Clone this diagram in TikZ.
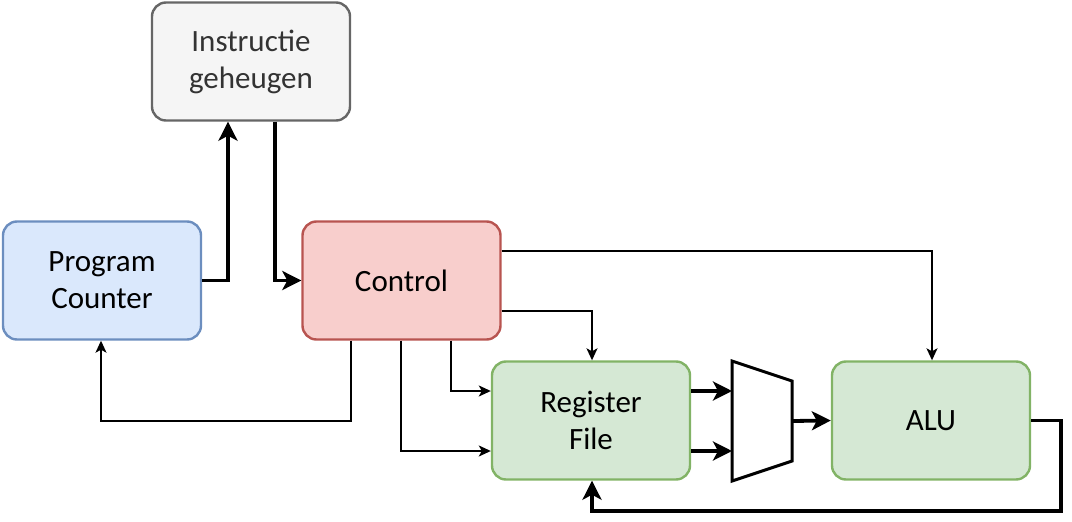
\documentclass[tikz,border=0pt]{standalone}
\usepackage{fontspec}
\setmainfont{Carlito}
\usetikzlibrary{arrows.meta}

\definecolor{grayfill}{HTML}{F5F5F5}
\definecolor{graydraw}{HTML}{666666}
\definecolor{graytext}{HTML}{333333}
\definecolor{bluefill}{HTML}{DAE8FC}
\definecolor{bluedraw}{HTML}{6C8EBF}
\definecolor{redfill}{HTML}{F8CECC}
\definecolor{reddraw}{HTML}{B85450}
\definecolor{greenfill}{HTML}{D5E8D4}
\definecolor{greendraw}{HTML}{82B366}

\tikzset{
  block/.style={rectangle, rounded corners=14pt, line width=2.4pt, minimum width=198pt, minimum height=118pt,
    align=center, font=\fontsize{31}{37}\selectfont},
  bus/.style={line width=3.8pt, -{Stealth[length=19pt,width=19pt,inset=5pt]}},
  ctrl/.style={line width=1.5pt, -{Stealth[length=12pt,width=11pt,inset=3pt]}},
}

\begin{document}
\begin{tikzpicture}[x=1pt,y=-1pt]
\useasboundingbox (0,0) rectangle (1072,522);

% blocks
\node[block, fill=grayfill, draw=graydraw, text=graytext] (imem) at (251,61.5) {Instructie\\geheugen};
\node[block, fill=bluefill, draw=bluedraw] (pc) at (102,280.5) {Program\\Counter};
\node[block, fill=redfill, draw=reddraw] (control) at (401.5,280.5) {Control};
\node[block, fill=greenfill, draw=greendraw] (regfile) at (591,420.5) {Register\\File};
\node[block, fill=greenfill, draw=greendraw] (alu) at (931,420.5) {ALU};

% mux
\draw[line width=3pt, line join=miter] (732,361) -- (792,381) -- (792,461) -- (732,481) -- cycle;
\coordinate (muxa) at (732,391);
\coordinate (muxb) at (732,451);
\coordinate (muxout) at (792,421);

% data paths
\draw[bus] (pc.east) -- (228,280.5) -- (imem.south -| 228,0);
\draw[bus] (imem.south -| 275,0) -- (275,280.5) -- (control.west);
\draw[bus] (regfile.east |- muxa) -- (muxa);
\draw[bus] (regfile.east |- muxb) -- (muxb);
\draw[bus] (muxout) -- (alu.west);
\draw[bus] (alu.east) -- (1061,420.5) -- (1061,511) -- (592,511) -- (regfile.south -| 592,0);

% control lines
\draw[ctrl] (control.east |- 0,251) -- (932,251) -- (alu.north -| 932,0);
\draw[ctrl] (control.east |- 0,311) -- (592,311) -- (regfile.north -| 592,0);
\draw[ctrl] (control.south -| 351,0) -- (351,421) -- (101,421) -- (pc.south -| 101,0);
\draw[ctrl] (control.south -| 401,0) -- (401,451) -- (regfile.west |- 0,451);
\draw[ctrl] (control.south -| 451,0) -- (451,391) -- (regfile.west |- 0,391);

\end{tikzpicture}
\end{document}
